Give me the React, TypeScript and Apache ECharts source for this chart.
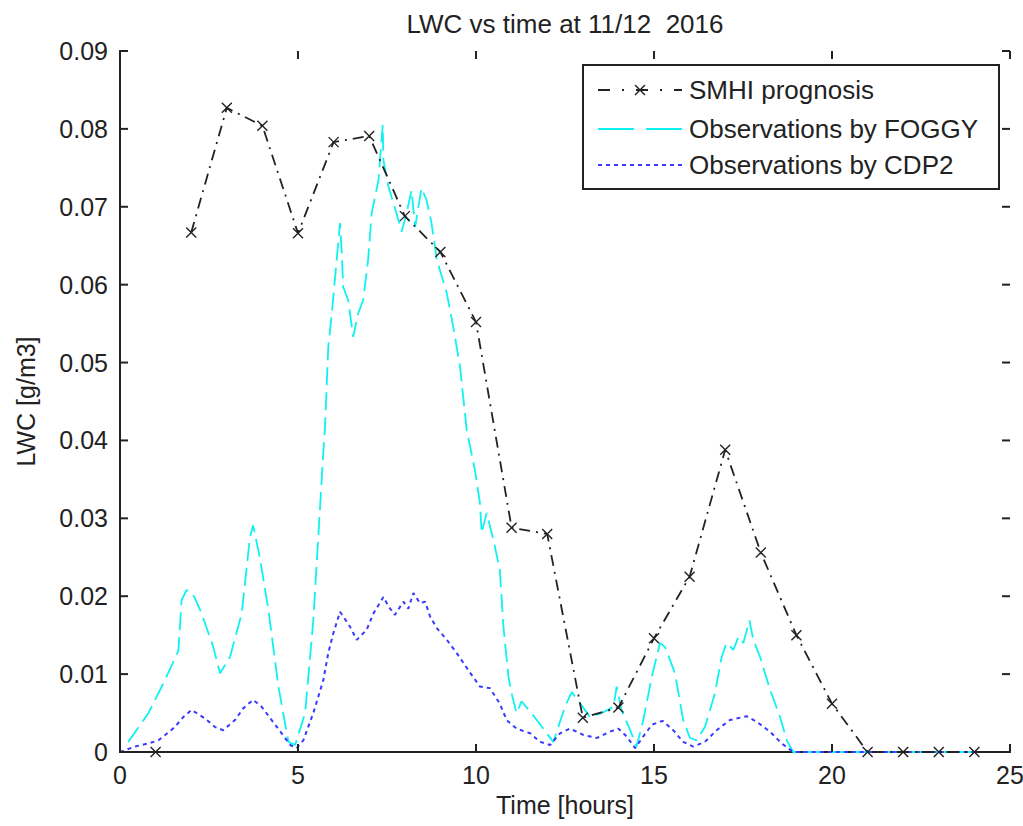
import React, { useEffect, useRef } from "react";
import * as echarts from "echarts";

const titleText = "LWC vs time at 11/12  2016";
const xTicks = [0, 5, 10, 15, 20, 25];
const yTicks = [0, 0.01, 0.02, 0.03, 0.04, 0.05, 0.06, 0.07, 0.08, 0.09];

// SMHI prognosis (hourly)
const smhiFirstHour = 1;
const smhiFirstValue = 0;
const smhiHours = [2, 3, 4, 5, 6, 7, 8, 9, 10, 11, 12, 13, 14, 15, 16, 17, 18, 19, 20, 21, 22, 23, 24];
const smhiValues = [0.0667, 0.0827, 0.0804, 0.0666, 0.0783, 0.0791, 0.0688, 0.0642, 0.0552, 0.0288, 0.028, 0.0044, 0.0057, 0.0146, 0.0225, 0.0388, 0.0256, 0.015, 0.0062, 0, 0, 0, 0];

// Observations by FOGGY
const foggyHours = [0.23, 0.8, 1.26, 1.64, 1.73, 1.87, 2.0, 2.1, 2.29, 2.62, 2.81, 3.09, 3.42, 3.65, 3.74, 3.93, 4.17, 4.45, 4.73, 4.92, 5.2, 5.43, 5.57, 5.71, 5.76, 5.85, 5.95, 6.18, 6.23, 6.27, 6.41, 6.55, 6.69, 6.83, 6.97, 7.07, 7.26, 7.38, 7.4, 7.54, 7.77, 7.91, 8.05, 8.19, 8.29, 8.47, 8.61, 8.75, 8.9, 9.18, 9.36, 9.55, 9.74, 9.97, 10.11, 10.16, 10.3, 10.49, 10.67, 10.77, 10.91, 11.0, 11.14, 11.28, 11.56, 11.84, 12.17, 12.5, 12.69, 12.92, 13.2, 13.53, 13.86, 13.95, 14.09, 14.33, 14.51, 14.7, 14.94, 15.17, 15.31, 15.59, 15.82, 16.01, 16.2, 16.43, 16.71, 16.9, 17.04, 17.23, 17.37, 17.51, 17.68, 17.79, 17.98, 18.26, 18.54, 18.73, 18.91, 24.0];
const foggyValues = [0.0013, 0.005, 0.0092, 0.013, 0.0195, 0.0208, 0.0205, 0.0198, 0.0178, 0.0135, 0.0101, 0.0122, 0.0178, 0.0276, 0.0291, 0.0249, 0.0182, 0.0084, 0.0013, 0.0009, 0.005, 0.0169, 0.0276, 0.0384, 0.0418, 0.052, 0.0563, 0.0679, 0.064, 0.0597, 0.058, 0.0533, 0.0563, 0.058, 0.0632, 0.0692, 0.0734, 0.0805, 0.076, 0.0726, 0.0691, 0.0668, 0.0692, 0.0721, 0.0674, 0.0724, 0.0709, 0.0679, 0.0632, 0.0589, 0.0546, 0.0495, 0.0413, 0.0362, 0.032, 0.0281, 0.0307, 0.0272, 0.0234, 0.0161, 0.0097, 0.0075, 0.005, 0.0065, 0.005, 0.0033, 0.0013, 0.0058, 0.0077, 0.0063, 0.0045, 0.005, 0.0058, 0.0084, 0.0054, 0.0028, 0.0007, 0.0041, 0.0097, 0.014, 0.0135, 0.0101, 0.0041, 0.0018, 0.0015, 0.0032, 0.0075, 0.0122, 0.014, 0.0131, 0.0148, 0.014, 0.0169, 0.0144, 0.0122, 0.008, 0.0045, 0.0015, 0, 0];

// Observations by CDP2
const cdpHours = [0.0, 0.42, 0.8, 1.08, 1.54, 1.78, 2.01, 2.39, 2.67, 2.9, 3.23, 3.46, 3.74, 3.98, 4.26, 4.54, 4.78, 4.96, 5.15, 5.43, 5.71, 5.85, 5.99, 6.18, 6.27, 6.46, 6.65, 6.93, 7.12, 7.4, 7.54, 7.72, 7.96, 8.1, 8.24, 8.43, 8.57, 8.71, 8.9, 9.18, 9.46, 9.83, 10.11, 10.39, 10.67, 10.86, 11.14, 11.52, 11.8, 12.08, 12.36, 12.64, 13.01, 13.39, 13.76, 14.0, 14.23, 14.47, 14.7, 14.94, 15.24, 15.54, 15.82, 16.1, 16.43, 16.76, 17.13, 17.6, 17.88, 18.26, 18.59, 18.91, 24.0];
const cdpValues = [0, 0.0007, 0.0011, 0.0015, 0.0032, 0.0045, 0.0054, 0.0043, 0.0032, 0.0028, 0.0041, 0.0056, 0.0067, 0.0058, 0.0041, 0.0024, 0.0009, 0.0005, 0.0015, 0.005, 0.0092, 0.0127, 0.0152, 0.018, 0.0174, 0.0161, 0.0144, 0.0157, 0.0178, 0.0199, 0.0187, 0.0176, 0.0193, 0.0184, 0.0204, 0.0191, 0.0193, 0.0174, 0.0159, 0.0144, 0.0127, 0.0102, 0.0084, 0.0082, 0.0062, 0.0041, 0.003, 0.0024, 0.0013, 0.0009, 0.0024, 0.003, 0.0022, 0.0018, 0.0026, 0.003, 0.002, 0.0005, 0.002, 0.0035, 0.004, 0.0028, 0.0013, 0.0007, 0.0013, 0.0028, 0.0041, 0.0046, 0.0039, 0.0026, 0.0011, 0, 0];

const legendLabels = ["SMHI prognosis", "Observations by FOGGY", "Observations by CDP2"];

const FONT = "Liberation Sans, Arial, sans-serif";
const INK = "#222222";
const CYAN = "#10f2f2";
const BLUE = "#3a3aff";
const X_SYMBOL = "path://M0,0L10,10M10,0L0,10";
const TICK_LEN = 8;

export default function App() {
  const ref = useRef<HTMLDivElement>(null);

  useEffect(() => {
    if (!ref.current) return;
    const chart = echarts.init(ref.current, null, { renderer: "svg" });

    const smhiData: any[] = [[smhiFirstHour, smhiFirstValue], [1.5, "-"]];
    smhiHours.forEach((h, i) => smhiData.push([h, smhiValues[i]]));
    const foggyData = foggyHours.map((h, i) => [h, foggyValues[i]]);
    const cdpData = cdpHours.map((h, i) => [h, cdpValues[i]]);

    const line = { show: true, lineStyle: { color: INK, width: 2 } };
    const noTick = { show: false };
    const xMin = xTicks[0];
    const xMax = xTicks[xTicks.length - 1];
    const yMin = yTicks[0];
    const yMax = yTicks[yTicks.length - 1];

    const lx0 = 598;
    const lx1 = 682;
    const rows = [90, 129, 165];

    const tickStyle = { stroke: INK, lineWidth: 2 };

    chart.setOption({
      animation: false,
      backgroundColor: "#ffffff",
      title: {
        text: titleText,
        left: 560,
        top: 6,
        textAlign: "center",
        textStyle: { fontFamily: FONT, fontSize: 26, fontWeight: "normal", color: INK },
      },
      grid: { left: 120, right: 13, top: 51, bottom: 74, show: false, containLabel: false, outerBoundsMode: "none" },
      xAxis: [
        {
          type: "value",
          position: "bottom",
          min: xMin,
          max: xMax,
          interval: 5,
          axisLine: line,
          axisTick: noTick,
          splitLine: { show: false },
          name: "Time [hours]",
          nameLocation: "middle",
          nameGap: 40,
          nameTextStyle: { fontFamily: FONT, fontSize: 25, color: INK },
          axisLabel: { fontFamily: FONT, fontSize: 25, color: INK, margin: 10, formatter: (v: number) => (xTicks.includes(v) ? String(v) : "") },
        },
        {
          type: "value",
          position: "top",
          min: xMin,
          max: xMax,
          interval: 5,
          axisLine: line,
          axisTick: noTick,
          splitLine: { show: false },
          axisLabel: { show: false },
        },
      ],
      yAxis: [
        {
          type: "value",
          position: "left",
          min: yMin,
          max: yMax,
          interval: 0.01,
          axisLine: line,
          axisTick: noTick,
          splitLine: { show: false },
          name: "LWC [g/m3]",
          nameLocation: "middle",
          nameGap: 82,
          nameRotate: 90,
          nameTextStyle: { fontFamily: FONT, fontSize: 25, color: INK },
          axisLabel: {
            fontFamily: FONT,
            fontSize: 25,
            color: INK,
            margin: 12,
            formatter: (v: number) => {
              const r = Math.round(v * 100) / 100;
              const t = yTicks.find((y) => Math.abs(y - r) < 1e-9);
              if (t === undefined) return "";
              return t === 0 ? "0" : t.toFixed(2);
            },
          },
        },
        {
          type: "value",
          position: "right",
          min: yMin,
          max: yMax,
          interval: 0.01,
          axisLine: line,
          axisTick: noTick,
          splitLine: { show: false },
          axisLabel: { show: false },
        },
      ],
      series: [
        {
          name: "ticks",
          type: "custom",
          xAxisIndex: 0,
          yAxisIndex: 0,
          data: [[xMin, yMin]],
          clip: false,
          silent: true,
          z: 5,
          renderItem: (params: any, api: any) => {
            const children: any[] = [];
            xTicks.forEach((v) => {
              const b = api.coord([v, yMin]);
              const t = api.coord([v, yMax]);
              children.push({ type: "line", shape: { x1: b[0], y1: b[1], x2: b[0], y2: b[1] - TICK_LEN }, style: tickStyle });
              children.push({ type: "line", shape: { x1: t[0], y1: t[1], x2: t[0], y2: t[1] + TICK_LEN }, style: tickStyle });
            });
            yTicks.forEach((v) => {
              const l = api.coord([xMin, v]);
              const r = api.coord([xMax, v]);
              children.push({ type: "line", shape: { x1: l[0], y1: l[1], x2: l[0] + TICK_LEN, y2: l[1] }, style: tickStyle });
              children.push({ type: "line", shape: { x1: r[0], y1: r[1], x2: r[0] - TICK_LEN, y2: r[1] }, style: tickStyle });
            });
            return { type: "group", children };
          },
        },
        {
          name: legendLabels[0],
          type: "line",
          data: smhiData,
          connectNulls: false,
          showAllSymbol: true,
          symbol: X_SYMBOL,
          symbolSize: 10,
          itemStyle: { color: "none", borderColor: INK, borderWidth: 1.4 },
          lineStyle: { color: INK, width: 1.8, type: [11, 6, 2, 6] },
          z: 3,
        },
        {
          name: legendLabels[1],
          type: "line",
          data: foggyData,
          symbol: "none",
          lineStyle: { color: CYAN, width: 1.8, type: [18, 7] },
          z: 2,
        },
        {
          name: legendLabels[2],
          type: "line",
          data: cdpData,
          symbol: "none",
          lineStyle: { color: BLUE, width: 2, type: [4, 4] },
          z: 2,
        },
      ],
      graphic: [
        {
          type: "rect",
          shape: { x: 583, y: 65, width: 416, height: 124 },
          style: { fill: "#ffffff", stroke: INK, lineWidth: 2 },
          z: 10,
        },
        {
          type: "line",
          shape: { x1: lx0, y1: rows[0], x2: lx1, y2: rows[0] },
          style: { stroke: INK, lineWidth: 1.8, lineDash: [12, 12, 2, 12] },
          z: 11,
        },
        {
          type: "polyline",
          shape: { points: [[635, 85], [645, 95]] },
          style: { stroke: INK, lineWidth: 1.4 },
          z: 11,
        },
        {
          type: "polyline",
          shape: { points: [[645, 85], [635, 95]] },
          style: { stroke: INK, lineWidth: 1.4 },
          z: 11,
        },
        {
          type: "line",
          shape: { x1: lx0, y1: rows[1], x2: lx1, y2: rows[1] },
          style: { stroke: CYAN, lineWidth: 2, lineDash: [36, 12] },
          z: 11,
        },
        {
          type: "line",
          shape: { x1: lx0, y1: rows[2], x2: lx1, y2: rows[2] },
          style: { stroke: BLUE, lineWidth: 2, lineDash: [4, 4] },
          z: 11,
        },
        ...legendLabels.map((t, i) => ({
          type: "text",
          x: 689,
          y: rows[i],
          style: { text: t, fontFamily: FONT, fontSize: 26, fill: INK, verticalAlign: "middle" },
          z: 11,
        })),
      ],
    });

    return () => chart.dispose();
  }, []);

  return <div ref={ref} style={{ position: "fixed", left: 0, top: 0, width: 1023, height: 826 }} />;
}
